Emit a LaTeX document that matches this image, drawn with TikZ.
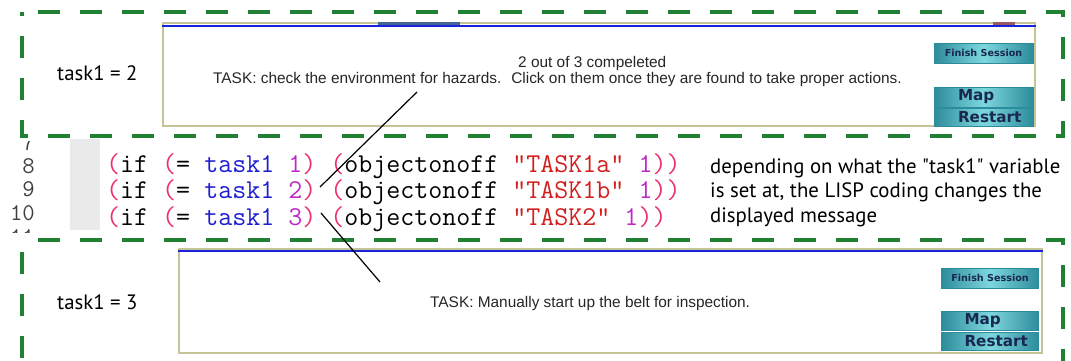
\documentclass[tikz,border=0pt]{standalone}
\usepackage{fontspec}
\setmainfont{Liberation Sans}
\newfontfamily\notefont{PT Sans}
\newfontfamily\btnfont{DejaVu Sans}
\usetikzlibrary{positioning}

\definecolor{dashgreen}{RGB}{32,128,52}
\definecolor{paneledge}{RGB}{196,196,150}
\definecolor{barblue}{RGB}{25,35,220}
\definecolor{tabblue}{RGB}{70,100,150}
\definecolor{tabred}{RGB}{150,90,100}
\definecolor{btndark}{RGB}{45,140,155}
\definecolor{btnlight}{RGB}{125,215,222}
\definecolor{btntext}{RGB}{25,40,80}
\definecolor{parcol}{RGB}{235,50,110}
\definecolor{varcol}{RGB}{30,30,210}
\definecolor{numcol}{RGB}{190,40,200}
\definecolor{strcol}{RGB}{210,30,30}
\definecolor{gutter}{RGB}{234,234,234}

\newcommand{\lp}{\textcolor{parcol}{(}}
\newcommand{\rp}{\textcolor{parcol}{)}}
\newcommand{\vr}[1]{\textcolor{varcol}{#1}}
\newcommand{\nm}[1]{\textcolor{numcol}{#1}}
\newcommand{\st}[1]{\textcolor{strcol}{#1}}

\begin{document}
\begin{tikzpicture}[x=1pt, y=-1pt, inner sep=0pt,
    dashbox/.style = {draw=dashgreen, line width=3.5pt, dash pattern=on 22pt off 20pt, dash phase=26pt},
    panel/.style = {draw=paneledge, line width=2.5pt, fill=white},
    bar/.style = {draw=barblue, line width=2pt},
    btn/.style = {draw=btndark, line width=0.8pt, left color=btndark, right color=btndark, middle color=btnlight, text=btntext, font=\btnfont\bfseries\fontsize{15.2}{15.2}\selectfont},
    smallbtn/.style = {btn, font=\btnfont\bfseries\fontsize{9.6}{9.6}\selectfont},
    code/.style = {anchor=base west, align=left, font=\ttfamily\fontsize{27.2}{23.5}\selectfont},
    lnum/.style = {anchor=base east, align=right, font=\ttfamily\fontsize{24}{23.5}\selectfont, text=black!75},
    note/.style = {anchor=base west, align=left, font=\notefont\fontsize{20.8}{24.5}\selectfont},
    lbl/.style = {anchor=base west, font=\notefont\fontsize{20.8}{20.8}\selectfont},
    scrtext/.style = {anchor=base west, font=\fontsize{15.4}{15.4}\selectfont, text=black!85},
    lead/.style = {draw=black, line width=1.2pt}]
    \useasboundingbox (0,0) rectangle (1071,360);
    \clip (0,0) rectangle (1071,360);

    % screen for task1 = 2
    \node[panel, minimum width=872pt, minimum height=103pt] (scr2) at (599,74.5) {};
    \fill[tabblue] (378,21.5) rectangle (460,26);
    \fill[tabred] (993,21.5) rectangle (1015,25);
    \draw[bar] ([yshift=-4pt]scr2.north west) -- ([yshift=-4pt]scr2.north east);
    \node[scrtext] (cnt) at (518,67) {2 out of 3 compeleted};
    \node[scrtext] (msg2) at (213,83) {TASK: check the environment for hazards.~ Click on them once they are found to take proper actions.};
    \node[smallbtn, minimum width=99pt, minimum height=20pt] (fin2) at (983.5,53) {Finish Session};
    \node[btn, minimum width=99pt, minimum height=20pt] (map2) at (983.5,97) {\makebox[51pt][l]{Map}};
    \node[btn, minimum width=99pt, minimum height=18pt] (rst2) at (983.5,117) {\makebox[51pt][l]{Restart}};
    \node[lbl] (t2) at (57,80) {task1 = 2};

    % screen for task1 = 3
    \node[panel, minimum width=863pt, minimum height=104pt] (scr3) at (610.5,301) {};
    \draw[bar] ([yshift=-3.5pt]scr3.north west) -- ([yshift=-3.5pt]scr3.north east);
    \node[scrtext] (msg3) at (430,307) {TASK: Manually start up the belt for inspection.};
    \node[smallbtn, minimum width=97pt, minimum height=20pt] (fin3) at (990,278) {Finish Session};
    \node[btn, minimum width=97pt, minimum height=19pt] (map3) at (990,321) {\makebox[51pt][l]{Map}};
    \node[btn, minimum width=97pt, minimum height=18pt] (rst3) at (990,341) {\makebox[51pt][l]{Restart}};
    \node[lbl] (t3) at (57,309) {task1 = 3};

    \draw[dashbox] (22,12) -- (1063,12) -- (1063,136) -- (22,136) -- cycle;
    \draw[dashbox] (22,240) -- (1063,240) -- (1063,400) -- (22,400) -- cycle;

    % lisp code (base of a multi-line node = bottom of its last line)
    \fill[gutter] (70,139) rectangle (100,230);
    \begin{scope}
        \clip (0,141) rectangle (60,232);
        \node[lnum] (n7) at (35,150) {7};
        \node[lnum] (n11) at (35,244) {11};
    \end{scope}
    \node[lnum] (nums) at (35,220) {8\\9\\10};
    \node[code] (lisp) at (106,225) {\lp{}if \lp{}= \vr{task1} \nm{1}\rp{} \lp{}objectonoff \st{"TASK1a"} \nm{1}\rp\rp\\
        \lp{}if \lp{}= \vr{task1} \nm{2}\rp{} \lp{}objectonoff \st{"TASK1b"} \nm{1}\rp\rp\\
        \lp{}if \lp{}= \vr{task1} \nm{3}\rp{} \lp{}objectonoff \st{"TASK2"} \nm{1}\rp\rp};
    \node[note] (expl) at (710,222) {depending on what the "task1" variable\\is set at, the LISP coding changes the\\displayed message};

    \coordinate (hz) at (417,92);
    \coordinate (c9) at (320,187);
    \coordinate (c10) at (321,213);
    \coordinate (belt) at (380,282);
    \draw[lead] (hz) -- (c9);
    \draw[lead] (c10) -- (belt);
\end{tikzpicture}
\end{document}
